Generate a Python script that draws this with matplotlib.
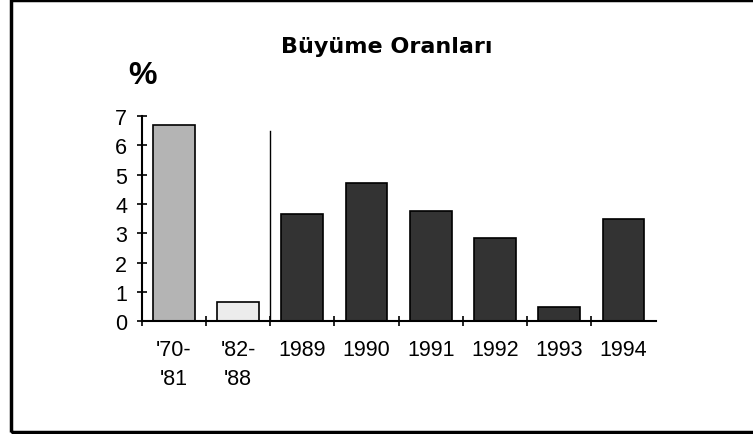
import matplotlib.pyplot as plt
from matplotlib.patches import Rectangle

plt.rcParams['font.family'] = ['Liberation Sans', 'DejaVu Sans']

# veriler
labels = ["'70-\n'81", "'82-\n'88", '1989', '1990', '1991', '1992', '1993', '1994']
values = [6.7, 0.65, 3.65, 4.7, 3.75, 2.85, 0.5, 3.5]
colors = ['#b4b4b4', '#ececec', '#333333', '#333333', '#333333', '#333333', '#333333', '#333333']
yticks = [0, 1, 2, 3, 4, 5, 6, 7]

fig = plt.figure(figsize=(7.53, 4.35), dpi=100)
ax = fig.add_axes([0.1882, 0.2591, 0.6826, 0.4719])

x = list(range(len(labels)))
ax.bar(x, values, width=0.65, color=colors, edgecolor='black', linewidth=1.2, zorder=2)

# dönem ayırıcı çizgi
ax.plot([1.5, 1.5], [0, 6.5], color='black', linewidth=1.0, zorder=3)

ax.set_xlim(-0.5, len(labels) - 0.5)
ax.set_ylim(0, 7)

for s in ['top', 'right']:
    ax.spines[s].set_visible(False)
for s in ['left', 'bottom']:
    ax.spines[s].set_linewidth(1.5)

ax.set_yticks(yticks)
ax.tick_params(axis='y', direction='inout', length=7, width=1.2, labelsize=15.5, pad=7)
ax.set_xticks(x)
ax.set_xticklabels(labels, linespacing=1.5)
ax.set_xticks([i - 0.5 for i in range(len(labels))], minor=True)
ax.tick_params(axis='x', which='major', length=0, labelsize=15.5, pad=13)
ax.tick_params(axis='x', which='minor', direction='inout', length=7, width=1.2)

fig.text(0.513, 0.892, 'Büyüme Oranları', ha='center', va='center',
         fontsize=16, fontweight='bold', family='DejaVu Sans')
fig.text(0.189, 0.825, '%', ha='center', va='center', fontsize=23, fontweight='bold')

# dış çerçeve
fig.patches.append(Rectangle((0.015, 0.004), 1.2, 0.994, transform=fig.transFigure,
                             fill=False, edgecolor='black', linewidth=2.5))

fig.savefig('out.png', dpi=100)
